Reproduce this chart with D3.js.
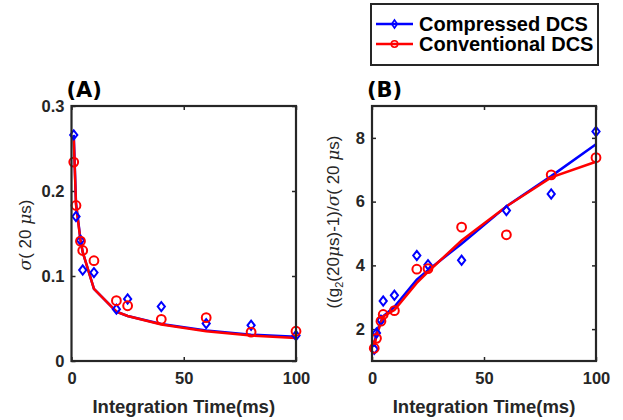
<!DOCTYPE html>
<html><head><meta charset="utf-8">
<script src="https://cdn.jsdelivr.net/npm/d3@7"></script>
<style>
html,body{margin:0;padding:0;background:#fff;}
svg{display:block;font-family:"Liberation Sans",Arial,sans-serif;}
</style></head>
<body>
<svg id="c" width="623" height="420"></svg>
<script>
// ---- data ----
const times = [1, 2, 4, 5, 10, 20, 25, 40, 60, 80, 100];
// Panel A: sigma(20 us)
const sigmaCompressed = [0.266, 0.170, 0.142, 0.107, 0.104, 0.061, 0.073, 0.064, 0.044, 0.042, 0.030];
const sigmaConventional = [0.234, 0.183, 0.141, 0.130, 0.118, 0.071, 0.065, 0.049, 0.051, 0.034, 0.035];
const sigmaFitCompressed = [0.266, 0.186, 0.143, 0.128, 0.085, 0.058, 0.053, 0.0435, 0.036, 0.031, 0.0285];
const sigmaFitConventional = [0.262, 0.184, 0.142, 0.128, 0.085, 0.058, 0.053, 0.043, 0.035, 0.030, 0.027];
// Panel B: (g2(20us)-1)/sigma(20 us)
const snrCompressed = [1.37, 1.88, 2.28, 2.88, 3.06, 4.31, 4.02, 4.16, 5.72, 6.24, 8.20];
const snrConventional = [1.40, 1.71, 2.25, 2.46, 2.58, 3.88, 3.90, 5.20, 4.96, 6.84, 7.38];
const snrFitCompressed = [1.50, 1.90, 2.25, 2.40, 2.70, 3.55, 3.85, 4.68, 5.85, 6.80, 7.80];
const snrFitConventional = [1.45, 1.80, 2.20, 2.40, 2.60, 3.45, 3.80, 4.78, 5.85, 6.76, 7.25];
const xTicks = [0, 50, 100];
const yTicksA = [0, 0.1, 0.2, 0.3];
const yTicksB = [2, 4, 6, 8];
const seriesNames = ["Compressed DCS", "Conventional DCS"];
const BLUE = "#0000ff", RED = "#ff0000", AX = "#262626";

const svg = d3.select("#c");

function diamond(g, x, y, color) {
  g.append("path")
    .attr("d", `M${x},${y-4.6}L${x+3.6},${y}L${x},${y+4.6}L${x-3.6},${y}Z`)
    .attr("fill", "none").attr("stroke", color).attr("stroke-width", 2);
}
function circle(g, x, y, color) {
  g.append("circle").attr("cx", x).attr("cy", y).attr("r", 4.4)
    .attr("fill", "none").attr("stroke", color).attr("stroke-width", 2);
}

function panel(opts) {
  const {x, y, xt, yt, yFmt, comp, conv, fitComp, fitConv, title} = opts;
  const g = svg.append("g");
  const [x0, x1] = x.range(), [y0, y1] = y.range();
  const mk = (ax) => ax.tickSizeInner(-4).tickSizeOuter(0).tickPadding(8);
  const bot = g.append("g").attr("transform", `translate(0,${y0})`)
    .call(mk(d3.axisBottom(x).tickValues(xt).tickFormat(d3.format("d"))));
  const lef = g.append("g").attr("transform", `translate(${x0},0)`)
    .call(mk(d3.axisLeft(y).tickValues(yt).tickFormat(yFmt)).tickPadding(7));
  const top = g.append("g").attr("transform", `translate(0,${y1})`)
    .call(mk(d3.axisTop(x).tickValues(xt).tickFormat("")));
  const rig = g.append("g").attr("transform", `translate(${x1},0)`)
    .call(mk(d3.axisRight(y).tickValues(yt).tickFormat("")));
  [bot, lef, top, rig].forEach(a => {
    a.select(".domain").remove();
    a.selectAll("line").attr("stroke", AX).attr("stroke-width", 1.5);
    a.selectAll("text").attr("fill", AX).style("font-size", "16.5px").style("font-weight", "bold")
      .style("font-family", '"Liberation Sans",Arial,sans-serif');
  });
  bot.selectAll("text").attr("dy", "0.9em");
  const line = d3.line().x((d, i) => x(times[i])).y(d => y(d));
  g.append("path").datum(fitComp).attr("d", line).attr("fill", "none")
    .attr("stroke", BLUE).attr("stroke-width", 2.5);
  g.append("path").datum(fitConv).attr("d", line).attr("fill", "none")
    .attr("stroke", RED).attr("stroke-width", 2.5);
  comp.forEach((v, i) => diamond(g, x(times[i]), y(v), BLUE));
  conv.forEach((v, i) => circle(g, x(times[i]), y(v), RED));
  g.append("rect").attr("x", x0).attr("y", y1).attr("width", x1 - x0).attr("height", y0 - y1)
    .attr("fill", "none").attr("stroke", AX).attr("stroke-width", 2.2);
  g.append("text").attr("x", (x0 + x1) / 2).attr("y", 413).attr("text-anchor", "middle")
    .style("font-size", "18.5px").style("font-weight", "bold").attr("fill", AX)
    .text("Integration Time(ms)");
  g.append("text").attr("x", x0 - 5).attr("y", 97)
    .style("font-family", '"DejaVu Sans",Verdana,sans-serif')
    .style("font-size", "21px").style("font-weight", "bold").attr("fill", "#000")
    .text(title);
  return g;
}

const xA = d3.scaleLinear().domain([0, 100]).range([71.5, 296]);
const yA = d3.scaleLinear().domain([0, 0.3]).range([361, 106]);
const xB = d3.scaleLinear().domain([0, 100]).range([372, 596]);
const yB = d3.scaleLinear().domain([1, 9]).range([361, 106]);

panel({x: xA, y: yA, xt: xTicks, yt: yTicksA, yFmt: d => d === 0 ? "0" : d3.format(".1f")(d),
  comp: sigmaCompressed, conv: sigmaConventional, fitComp: sigmaFitCompressed, fitConv: sigmaFitConventional, title: "(A)"});
panel({x: xB, y: yB, xt: xTicks, yt: yTicksB, yFmt: d3.format("d"),
  comp: snrCompressed, conv: snrConventional, fitComp: snrFitCompressed, fitConv: snrFitConventional, title: "(B)"});

const la = svg.append("text").attr("transform", "translate(31,235) rotate(-90)")
  .attr("text-anchor", "middle").style("font-size", "17px").attr("fill", AX);
la.append("tspan").style("font-style", "italic").style("font-family", '"DejaVu Serif",serif').text("σ");
la.append("tspan").text("( 20 ");
la.append("tspan").style("font-style", "italic").style("font-family", '"DejaVu Serif",serif').text("μ");
la.append("tspan").text("s)");

const lb = svg.append("text").attr("transform", "translate(339,222) rotate(-90)")
  .attr("text-anchor", "middle").style("font-size", "17px").attr("fill", AX);
lb.append("tspan").text("((g");
lb.append("tspan").attr("dy", 4).style("font-size", "11px").text("2");
lb.append("tspan").attr("dy", -4).text("(20");
lb.append("tspan").style("font-style", "italic").style("font-family", '"DejaVu Serif",serif').text("μ");
lb.append("tspan").text("s)-1)/");
lb.append("tspan").style("font-style", "italic").style("font-family", '"DejaVu Serif",serif').text("σ");
lb.append("tspan").text("( 20 ");
lb.append("tspan").style("font-style", "italic").style("font-family", '"DejaVu Serif",serif').text("μ");
lb.append("tspan").text("s)");

const leg = svg.append("g");
leg.append("rect").attr("x", 371).attr("y", 4).attr("width", 227).attr("height", 61)
  .attr("fill", "#fff").attr("stroke", AX).attr("stroke-width", 2);
[[BLUE, 24, "d"], [RED, 44, "c"]].forEach(([col, ly, m], i) => {
  leg.append("line").attr("x1", 376).attr("x2", 413).attr("y1", ly).attr("y2", ly)
    .attr("stroke", col).attr("stroke-width", 2.5);
  if (m === "d") {
    leg.append("path").attr("d", `M394.5,${ly-4}L397.3,${ly}L394.5,${ly+4}L391.7,${ly}Z`)
      .attr("fill", "none").attr("stroke", col).attr("stroke-width", 1.6);
  } else {
    leg.append("circle").attr("cx", 394.5).attr("cy", ly).attr("r", 3.2)
      .attr("fill", "none").attr("stroke", col).attr("stroke-width", 1.6);
  }
  leg.append("text").attr("x", 419).attr("y", ly).attr("dy", "0.36em")
    .style("font-size", "20px").style("font-weight", "bold").attr("fill", "#000")
    .text(seriesNames[i]);
});
</script>
</body></html>
